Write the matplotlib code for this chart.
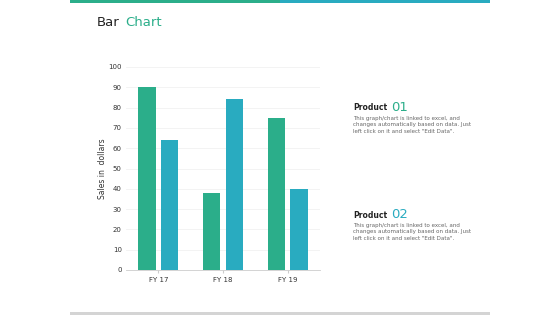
import matplotlib
matplotlib.use("Agg")
import matplotlib.pyplot as plt
import numpy as np

categories = ["FY 17", "FY 18", "FY 19"]
product01 = [90, 38, 75]
product02 = [64, 84, 40]
yticks = list(range(0, 101, 10))

green = "#2bae8a"
teal = "#29abc0"

fig = plt.figure(figsize=(5.6, 3.15), dpi=100)
W, H = 560, 315

# top bars
fig.add_artist(plt.Rectangle((70 / W, 1 - 3 / H), 210 / W, 3 / H, color=green, transform=fig.transFigure, lw=0))
fig.add_artist(plt.Rectangle((280 / W, 1 - 3 / H), 210 / W, 3 / H, color=teal, transform=fig.transFigure, lw=0))
# bottom grey line
fig.add_artist(plt.Rectangle((70 / W, 0), 420 / W, 3 / H, color="#d4d4d4", transform=fig.transFigure, lw=0))

# title
t = fig.text(97 / W, 1 - 23 / H, "Bar", fontsize=9.5, color="#222222", va="center", ha="left")
fig.text(125 / W, 1 - 23 / H, "Chart", fontsize=9.5, color=green, va="center", ha="left")

ax = fig.add_axes([126 / W, 1 - 270 / H, 194 / W, 203 / H])
x = np.arange(len(categories))
w = 0.27
ax.bar(x - 0.175, product01, width=w, color=green, zorder=3)
ax.bar(x + 0.175, product02, width=w, color=teal, zorder=3)
ax.set_xlim(-0.5, 2.5)
ax.set_ylim(0, 100)
ax.set_yticks(yticks)
ax.set_xticks(x)
ax.set_xticklabels(categories)
ax.tick_params(axis="both", labelsize=5, colors="#333333", length=0, pad=3)
ax.tick_params(axis="x", length=2, color="#cccccc")
ax.grid(axis="y", color="#eeeeee", lw=0.5, zorder=0)
for s in ["top", "right", "left"]:
    ax.spines[s].set_visible(False)
ax.spines["bottom"].set_color("#cccccc")
ax.spines["bottom"].set_linewidth(0.6)
ax.set_ylabel("Sales in  dollars", fontsize=5.5, color="#333333", labelpad=1)

desc = "This graph/chart is linked to excel, and\nchanges automatically based on data. Just\nleft click on it and select \"Edit Data\"."
for yy, num, col in [(108, "01", green), (215, "02", teal)]:
    p = fig.text(353 / W, 1 - yy / H, "Product", fontsize=5.5, fontweight="bold", color="#222222", va="center")
    fig.text(0, 0, "", transform=fig.transFigure)
    ax.annotate(num, xy=(1, 0.5), xycoords=p, xytext=(3, 0.5), textcoords="offset points",
                fontsize=9.5, color=col, va="center", ha="left", annotation_clip=False)
    fig.text(353 / W, 1 - (yy + 8) / H, desc, fontsize=4, color="#666666", va="top", linespacing=1.35)

fig.savefig("out.png", dpi=100)
